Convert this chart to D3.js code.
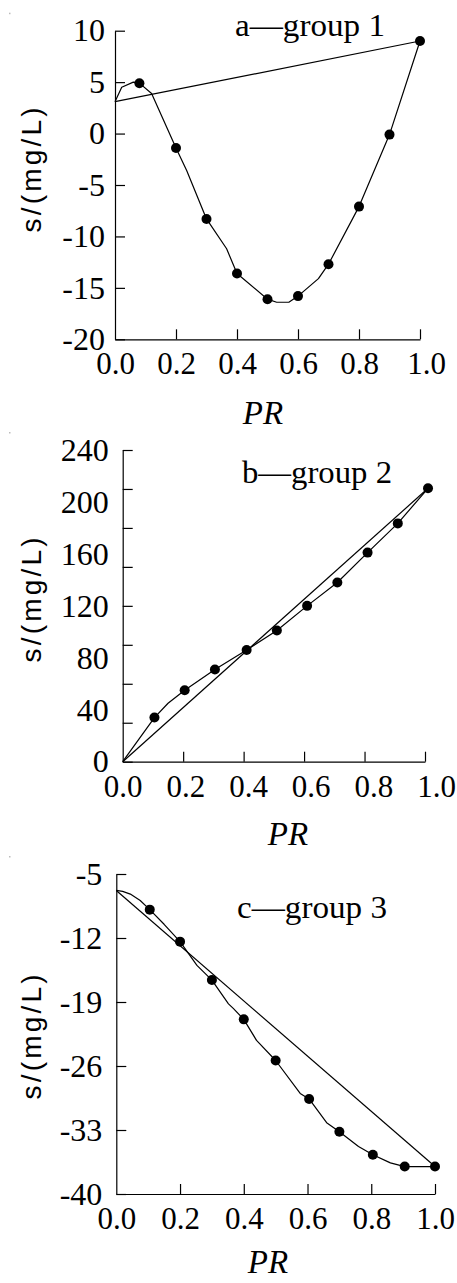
<!DOCTYPE html>
<html>
<head>
<meta charset="utf-8">
<script src="https://cdn.jsdelivr.net/npm/d3@7"></script>
<style>
  body { margin: 0; background: #fff; }
  svg { display: block; }
  .tick text { font-family: "Liberation Serif", "Times New Roman", serif; fill: #000; }
  .domain, .tick line { stroke: #000; stroke-width: 1.2px; }
</style>
</head>
<body>
<svg id="chart" width="457" height="1283"></svg>
<script>
// group 1
var aPR = [0.08, 0.2, 0.3, 0.4, 0.5, 0.6, 0.7, 0.8, 0.9, 1.0];
var aS = [4.9, -1.4, -8.3, -13.6, -16.1, -15.8, -12.7, -7.1, -0.1, 9.0];
var aFitPR = [0, 0.022, 0.06, 0.08, 0.12, 0.2, 0.235, 0.3, 0.366, 0.4, 0.5, 0.53, 0.57, 0.6, 0.667, 0.7, 0.8, 0.9, 1.0];
var aFitS = [3.1, 4.5, 5.0, 4.9, 3.9, -1.4, -3.6, -8.3, -11.2, -13.6, -16.1, -16.4, -16.4, -15.8, -14.1, -12.7, -7.1, -0.1, 9.0];
var aLinePR = [0, 1.0];
var aLineS = [3.1, 9.0];
var aTicks = [10, 5, 0, -5, -10, -15, -20];

// group 2
var bPR = [0.105, 0.205, 0.305, 0.41, 0.51, 0.61, 0.71, 0.81, 0.91, 1.01];
var bS = [34, 55, 71, 86, 101, 120, 138, 161, 183.5, 210.5];
var bFitPR = [0, 0.105, 0.15, 0.205, 0.305, 0.41, 0.51, 0.61, 0.71, 0.81, 0.91, 1.01];
var bFitS = [0, 34, 45, 55, 71, 86, 101, 120, 138, 161, 183.5, 210.5];
var bLinePR = [0, 1.01];
var bLineS = [0, 210.5];
var bTicks = [0, 30, 60, 90, 120, 150, 180, 210, 240];
var bLabels = [0, 40, 80, 120, 160, 200, 240];

// group 3
var cPR = [0.105, 0.2, 0.3, 0.4, 0.5, 0.605, 0.7, 0.805, 0.905, 1.0];
var cS = [-8.9, -12.4, -16.6, -20.9, -25.4, -29.6, -33.2, -35.7, -37.0, -37.0];
var cFitPR = [0, 0.02, 0.044, 0.075, 0.105, 0.15, 0.2, 0.253, 0.3, 0.352, 0.367, 0.4, 0.44, 0.5, 0.577, 0.605, 0.66, 0.7, 0.76, 0.805, 0.86, 0.905, 1.0];
var cFitS = [-6.8, -6.9, -7.2, -7.9, -8.9, -10.5, -12.4, -15.0, -16.6, -19.2, -19.7, -20.9, -23.2, -25.4, -29.0, -29.6, -32.2, -33.2, -34.8, -35.7, -36.6, -37.0, -37.0];
var cLinePR = [0, 1.0];
var cLineS = [-6.8, -37.0];
var cTicks = [-5, -12, -19, -26, -33, -40];

var xTicks = [0, 0.2, 0.4, 0.6, 0.8, 1.0];

var svg = d3.select("#chart");

var zip = function(xs, ys) { return xs.map(function(x, i) { return [x, ys[i]]; }); };
var plain = function(d) { return String(d); };   // hyphen minus like the original

var panels = [
  { title: "a\u2014group 1", x0: 115, x1: 420, top: 30.7, bot: 339.3, dom: [-20, 10],
    ticks: aTicks, labels: null, yFont: 32, yPad: 10, r: 5,
    pts: zip(aPR, aS), fit: zip(aFitPR, aFitS), line: zip(aLinePR, aLineS),
    xdx: function(d) { return d === 1 ? 6 : 0; },
    tx: 235, ty: 36, prx: 263, pry: 424, ylx: 41, yly: 170 },
  { title: "b\u2014group 2", x0: 122.7, x1: 425, top: 450, bot: 761.7, dom: [0, 240],
    ticks: bTicks, labels: bLabels, yFont: 32, yPad: 14, r: 5,
    pts: zip(bPR, bS), fit: zip(bFitPR, bFitS), line: zip(bLinePR, bLineS),
    xdx: function(d) { return d * 11; },
    tx: 242, ty: 483, prx: 288, pry: 845, ylx: 41, yly: 600 },
  { title: "c\u2014group 3", x0: 116.3, x1: 435, top: 874, bot: 1194, dom: [-40, -5],
    ticks: cTicks, labels: null, yFont: 32, yPad: 14, r: 5,
    pts: zip(cPR, cS), fit: zip(cFitPR, cFitS), line: zip(cLinePR, cLineS),
    xdx: function(d) { return 0; },
    tx: 237, ty: 918, prx: 268, pry: 1273, ylx: 41, yly: 1037 }
];

panels.forEach(function(p) {
  var x = d3.scaleLinear().domain([0, 1]).range([p.x0, p.x1]);
  var y = d3.scaleLinear().domain(p.dom).range([p.bot, p.top]);
  var g = svg.append("g");

  // stray dot top-left, as in the scan
  g.append("rect").attr("x", 9).attr("y", p.top - 18).attr("width", 1.5).attr("height", 1.5).attr("fill", "#bbb");

  // y axis
  var yAxis = d3.axisLeft(y).tickValues(p.ticks).tickSize(-10).tickSizeOuter(0)
    .tickPadding(p.yPad).tickFormat(p.labels ? "" : plain);
  var ya = g.append("g").attr("transform", "translate(" + p.x0 + ",0)").call(yAxis);
  ya.selectAll("text").style("font-size", p.yFont + "px");
  if (p.labels) {
    var yl = g.append("g").attr("transform", "translate(" + p.x0 + ",0)")
      .call(d3.axisLeft(y).tickValues(p.labels).tickSize(0).tickPadding(p.yPad).tickFormat(plain));
    yl.select(".domain").remove();
    yl.selectAll("text").style("font-size", p.yFont + "px");
  }

  // x axis
  var xa = g.append("g").attr("transform", "translate(0," + p.bot + ")")
    .call(d3.axisBottom(x).tickValues(xTicks).tickFormat(d3.format(".1f"))
      .tickSize(-10).tickSizeOuter(0).tickPadding(13));
  xa.selectAll("text").style("font-size", "31px").attr("dx", p.xdx);
  xa.selectAll(".tick").filter(function(d) { return d === 0; }).select("line").remove();

  var line = d3.line().x(function(d) { return x(d[0]); }).y(function(d) { return y(d[1]); });

  g.append("path").datum(p.line).attr("d", line)
    .attr("fill", "none").attr("stroke", "#000").attr("stroke-width", 1.2);
  g.append("path").datum(p.fit).attr("d", line)
    .attr("fill", "none").attr("stroke", "#000").attr("stroke-width", 1.2).attr("stroke-linejoin", "round");

  g.selectAll("circle").data(p.pts).enter().append("circle")
    .attr("cx", function(d) { return x(d[0]); })
    .attr("cy", function(d) { return y(d[1]); })
    .attr("r", p.r).attr("fill", "#000");

  // title
  g.append("text").attr("x", p.tx).attr("y", p.ty)
    .attr("textLength", 150).attr("lengthAdjust", "spacingAndGlyphs")
    .style("font-family", "'Liberation Serif', 'Times New Roman', serif").style("font-size", "31px")
    .text(p.title);

  // axis titles
  g.append("text").attr("x", p.prx).attr("y", p.pry).attr("text-anchor", "middle")
    .style("font-family", "'Liberation Serif', 'Times New Roman', serif").style("font-style", "italic")
    .style("font-size", "33px").text("PR");

  g.append("text").attr("transform", "translate(" + p.ylx + "," + p.yly + ") rotate(-90)")
    .attr("text-anchor", "middle").attr("textLength", 125).attr("lengthAdjust", "spacing")
    .style("font-family", "'Liberation Sans', Arial, sans-serif").style("font-size", "28px")
    .text("s/(mg/L)");
});
</script>
</body>
</html>
